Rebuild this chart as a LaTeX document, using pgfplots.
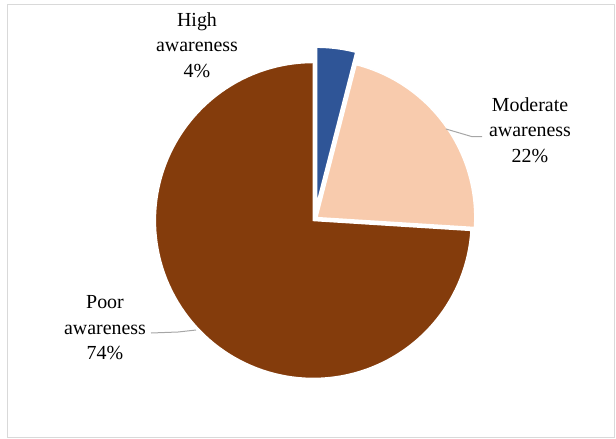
\documentclass[border=0pt]{standalone}
\usepackage{pgfplots}
\usepackage{pgfplotstable}
\usepackage{fontspec}
\setmainfont{Liberation Serif}
\pgfplotsset{compat=1.18}
\definecolor{highc}{HTML}{2F5597}
\definecolor{modc}{HTML}{F8CBAD}
\definecolor{poorc}{HTML}{843C0C}
\definecolor{framec}{HTML}{D9D9D9}
\definecolor{leadc}{HTML}{A6A6A6}
\pgfplotstableread{
label value explode
High 4 14
Moderate 22 2.5
Poor 74 2
}\piedata
\begin{document}
\begin{tikzpicture}
\pgfplotstablegetelem{0}{value}\of\piedata \let\vA\pgfplotsretval
\pgfplotstablegetelem{1}{value}\of\piedata \let\vB\pgfplotsretval
\pgfplotstablegetelem{2}{value}\of\piedata \let\vC\pgfplotsretval
\pgfplotstablegetelem{0}{explode}\of\piedata \let\eA\pgfplotsretval
\pgfplotstablegetelem{1}{explode}\of\piedata \let\eB\pgfplotsretval
\pgfplotstablegetelem{2}{explode}\of\piedata \let\eC\pgfplotsretval
\pgfmathsetmacro{\cx}{314.8}
\pgfmathsetmacro{\cy}{219.1}
\pgfmathsetmacro{\R}{158}
\pgfmathsetmacro{\aA}{0}
\pgfmathsetmacro{\aB}{3.6*\vA}
\pgfmathsetmacro{\aC}{3.6*(\vA+\vB)}
\pgfmathsetmacro{\aD}{3.6*(\vA+\vB+\vC)}
\pgfmathsetmacro{\xA}{\cx+\eA*sin((\aA+\aB)/2)}
\pgfmathsetmacro{\yA}{\cy-\eA*cos((\aA+\aB)/2)}
\pgfmathsetmacro{\xB}{\cx+\eB*sin((\aB+\aC)/2)}
\pgfmathsetmacro{\yB}{\cy-\eB*cos((\aB+\aC)/2)}
\pgfmathsetmacro{\xC}{\cx+\eC*sin((\aC+\aD)/2)}
\pgfmathsetmacro{\yC}{\cy-\eC*cos((\aC+\aD)/2)}
\begin{axis}[width=616bp, height=439bp, scale only axis,
  xmin=0, xmax=616, ymin=0, ymax=439, y dir=reverse,
  hide axis, clip=false]
\draw[framec, line width=1.2bp] (axis cs:7.5,4.5) rectangle (axis cs:614.5,437.5);
\addplot[fill=poorc, draw=white, line width=1.5bp, domain=\aC:\aD, samples=120, variable=\t]
  ({\xC+\R*sin(\t)}, {\yC-\R*cos(\t)}) -- (axis cs:\xC,\yC) -- cycle;
\addplot[fill=modc, draw=white, line width=1.5bp, domain=\aB:\aC, samples=50, variable=\t]
  ({\xB+\R*sin(\t)}, {\yB-\R*cos(\t)}) -- (axis cs:\xB,\yB) -- cycle;
\addplot[fill=highc, draw=white, line width=1.5bp, domain=\aA:\aB, samples=20, variable=\t]
  ({\xA+\R*sin(\t)}, {\yA-\R*cos(\t)}) -- (axis cs:\xA,\yA) -- cycle;
\draw[leadc, line width=1bp] (axis cs:446,129) -- (axis cs:471.5,136.5) -- (axis cs:482,136.5);
\draw[leadc, line width=1bp] (axis cs:151,333) -- (axis cs:178,332) -- (axis cs:196,330);
\node[align=center, font=\fontsize{20}{25.5}\selectfont] at (axis cs:197,45) {High\\awareness\\4\%};
\node[align=center, font=\fontsize{20}{25.5}\selectfont] at (axis cs:530,130) {Moderate\\awareness\\22\%};
\node[align=center, font=\fontsize{20}{25.5}\selectfont] at (axis cs:105,328) {Poor\\awareness\\74\%};
\end{axis}
\pgfresetboundingbox
\path (current axis.south west) rectangle (current axis.north east);
\end{tikzpicture}
\end{document}
